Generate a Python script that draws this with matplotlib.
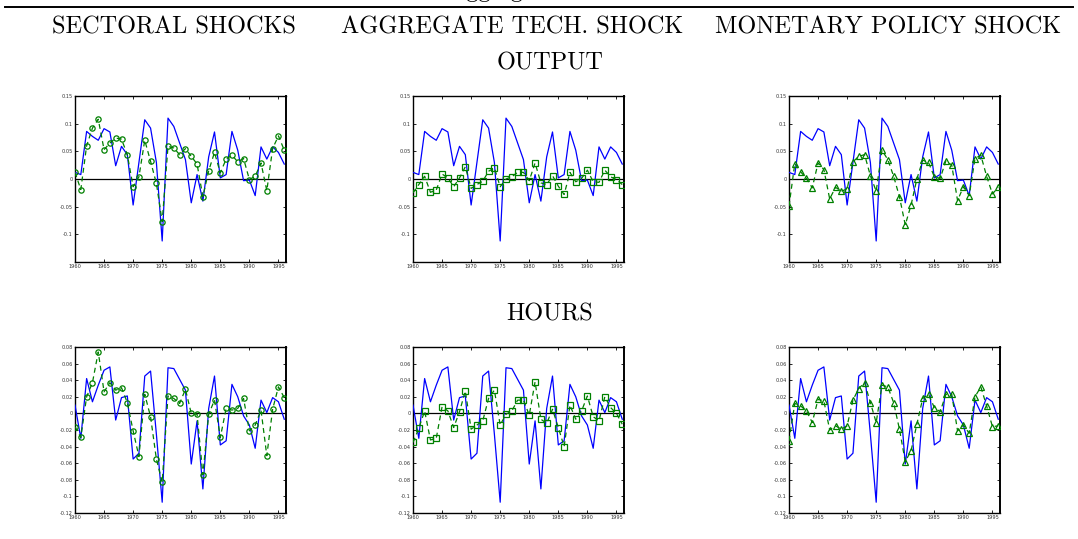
import matplotlib
matplotlib.use("Agg")
import matplotlib.pyplot as plt
import numpy as np

years = list(range(1960, 1997))

col_titles = ["SECTORAL SHOCKS", "AGGREGATE TECH. SHOCK", "MONETARY POLICY SHOCK"]
row_titles = ["OUTPUT", "HOURS"]

output_actual = [0.012, 0.008, 0.086, 0.077, 0.070, 0.091, 0.085, 0.024, 0.059, 0.044,
                 -0.047, 0.030, 0.107, 0.092, 0.030, -0.112, 0.110, 0.095, 0.065, 0.035,
                 -0.043, 0.008, -0.040, 0.040, 0.085, 0.002, 0.008, 0.086, 0.052, -0.003,
                 -0.002, -0.030, 0.058, 0.036, 0.058, 0.048, 0.027]
output_sectoral = [0.012, -0.019, 0.060, 0.092, 0.108, 0.053, 0.065, 0.074, 0.072, 0.044,
                   -0.014, 0.004, 0.070, 0.032, -0.008, -0.077, 0.059, 0.056, 0.044, 0.055,
                   0.041, 0.027, -0.032, 0.015, 0.048, 0.011, 0.036, 0.043, 0.031, 0.037,
                   -0.001, 0.005, 0.029, -0.021, 0.055, 0.078, 0.052]
output_aggtech = [-0.025, -0.010, 0.005, -0.024, -0.020, 0.009, 0.002, -0.014, 0.002, 0.022,
                  -0.017, -0.010, -0.004, 0.014, 0.020, -0.014, 0.000, 0.004, 0.012, 0.012,
                  -0.003, 0.029, -0.007, -0.010, 0.006, -0.013, -0.028, 0.012, -0.005, 0.001,
                  0.016, -0.005, -0.006, 0.016, 0.004, -0.001, -0.010]
output_monetary = [-0.049, 0.028, 0.013, 0.001, -0.016, 0.029, 0.017, -0.036, -0.015, -0.022,
                   -0.018, 0.031, 0.041, 0.044, 0.006, -0.022, 0.052, 0.035, 0.005, -0.032,
                   -0.083, -0.047, 0.000, 0.034, 0.030, 0.004, 0.001, 0.033, 0.025, -0.039,
                   -0.014, -0.030, 0.037, 0.043, 0.005, -0.027, -0.015]

hours_actual = [0.010, -0.030, 0.042, 0.014, 0.034, 0.052, 0.056, -0.008, 0.019, 0.021,
                -0.055, -0.048, 0.045, 0.051, -0.025, -0.107, 0.055, 0.054, 0.041, 0.028,
                -0.061, -0.009, -0.091, 0.006, 0.045, -0.038, -0.033, 0.035, 0.020, -0.003,
                -0.014, -0.042, 0.016, 0.001, 0.019, 0.014, -0.007]
hours_sectoral = [-0.016, -0.029, 0.020, 0.037, 0.074, 0.026, 0.037, 0.028, 0.031, 0.013,
                  -0.021, -0.052, 0.023, -0.004, -0.055, -0.083, 0.021, 0.018, 0.012, 0.029,
                  0.000, -0.001, -0.074, -0.001, 0.016, -0.029, 0.006, 0.004, 0.006, 0.018,
                  -0.021, -0.014, 0.004, -0.051, 0.005, 0.032, 0.019]
hours_aggtech = [-0.035, -0.018, 0.003, -0.032, -0.030, 0.008, 0.003, -0.017, 0.002, 0.027,
                 -0.019, -0.014, -0.009, 0.018, 0.028, -0.014, -0.001, 0.003, 0.016, 0.016,
                 -0.002, 0.038, -0.007, -0.012, 0.005, -0.017, -0.040, 0.010, -0.007, 0.003,
                 0.021, -0.004, -0.009, 0.020, 0.007, 0.000, -0.013]
hours_monetary = [-0.033, 0.012, 0.009, 0.003, -0.011, 0.017, 0.015, -0.020, -0.015, -0.019,
                  -0.015, 0.016, 0.030, 0.037, 0.013, -0.011, 0.034, 0.032, 0.013, -0.019,
                  -0.058, -0.045, -0.013, 0.018, 0.023, 0.007, 0.002, 0.023, 0.023, -0.021,
                  -0.014, -0.024, 0.020, 0.032, 0.009, -0.016, -0.015]

xticks = [1960, 1965, 1970, 1975, 1980, 1985, 1990, 1995]
output_yticks = [-0.1, -0.05, 0, 0.05, 0.1, 0.15]
output_yticklabels = ["-0.1", "-0.05", "0", "0.05", "0.1", "0.15"]
hours_yticks = [-0.12, -0.1, -0.08, -0.06, -0.04, -0.02, 0, 0.02, 0.04, 0.06, 0.08]
hours_yticklabels = ["-0.12", "-0.1", "-0.08", "-0.06", "-0.04", "-0.02", "0",
                     "0.02", "0.04", "0.06", "0.08"]

rows = [
    (output_actual, [output_sectoral, output_aggtech, output_monetary],
     (-0.15, 0.15), output_yticks, output_yticklabels),
    (hours_actual, [hours_sectoral, hours_aggtech, hours_monetary],
     (-0.12, 0.08), hours_yticks, hours_yticklabels),
]
markers = ["o", "s", "^"]

W, H = 1078, 539
fig = plt.figure(figsize=(W / 100, H / 100), dpi=100)

col_left = [75, 413, 789]
col_width = 211
row_top = [96, 347]
row_height = 166

tick_font = "DejaVu Sans"
title_font = ["cmr10", "DejaVu Serif"]

for r, (actual, shocks, ylim, yt, ytl) in enumerate(rows):
    for c in range(3):
        x0 = col_left[c] / W
        y0 = 1 - (row_top[r] + row_height) / H
        ax = fig.add_axes([x0, y0, col_width / W, row_height / H])
        ax.plot(years, actual, color="#0000ff", lw=0.9, zorder=3)
        ax.plot(years, shocks[c], color="#008000", lw=0.9, ls=(0, (4, 3)),
                marker=markers[c], markersize=3.8, markerfacecolor="none",
                markeredgecolor="#008000", markeredgewidth=0.9, zorder=4)
        ax.axhline(0, color="black", lw=0.9, zorder=2)
        ax.set_xlim(1960, 1996.3)
        ax.set_ylim(*ylim)
        ax.set_xticks(xticks)
        ax.set_xticklabels([str(x) for x in xticks], fontsize=3.6, family=tick_font)
        ax.set_yticks(yt)
        ax.set_yticklabels(ytl, fontsize=3.6, family=tick_font)
        ax.tick_params(direction="in", length=2, width=0.6, pad=1.5,
                       top=True, right=True, colors="black", labelcolor="#333333")
        for side, sp in ax.spines.items():
            sp.set_linewidth(1.0)
        ax.spines["right"].set_linewidth(1.4)

# top rule and column / row titles
fig.add_artist(plt.Line2D([5 / W, 1073 / W], [1 - 7 / H, 1 - 7 / H],
                          color="black", lw=1.4))
fig.text(448 / W, 1 + 3.5 / H, "Aggregate", fontsize=17.5, family=title_font,
         va="baseline", ha="left")

col_centers = [174, 512, 888]
for c, t in enumerate(col_titles):
    fig.text(col_centers[c] / W, 1 - 27 / H, t, fontsize=17.5, family=title_font,
             ha="center", va="center")
fig.text(550 / W, 1 - 63 / H, row_titles[0], fontsize=17.5, family=title_font,
         ha="center", va="center")
fig.text(550 / W, 1 - 314 / H, row_titles[1], fontsize=17.5, family=title_font,
         ha="center", va="center")

fig.savefig("out.png", dpi=100, facecolor="white")
